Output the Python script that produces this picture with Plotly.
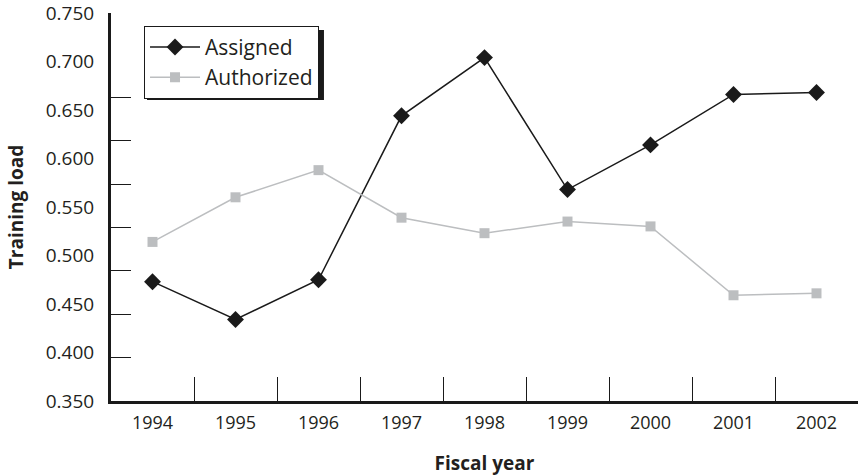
import plotly.graph_objects as go

years = ["1994", "1995", "1996", "1997", "1998", "1999", "2000", "2001", "2002"]
assigned = [0.473, 0.434, 0.475, 0.644, 0.704, 0.568, 0.614, 0.666, 0.668]
authorized = [0.514, 0.560, 0.588, 0.539, 0.523, 0.535, 0.530, 0.459, 0.461]
y_ticks = [0.35, 0.40, 0.45, 0.50, 0.55, 0.60, 0.65, 0.70, 0.75]
y_marks = [0.40, 0.45, 0.50, 0.55, 0.60, 0.65, 0.70]

FONT = "Open Sans"
INK = "#1a1a1a"

fig = go.Figure()
fig.add_trace(go.Scatter(x=years, y=assigned, name="Assigned", mode="lines+markers",
                         line=dict(color=INK, width=1.5),
                         marker=dict(symbol="diamond", size=13, color=INK)))
fig.add_trace(go.Scatter(x=years, y=authorized, name="Authorized", mode="lines+markers",
                         line=dict(color="#bcbec0", width=1.5),
                         marker=dict(symbol="square", size=10, color="#bcbec0")))
# invisible trace so the tick-only axis is drawn
fig.add_trace(go.Scatter(x=[years[0]], y=[0.4], yaxis="y2", mode="markers",
                         marker=dict(opacity=0), showlegend=False, hoverinfo="skip"))

# legend drop shadow
fig.add_shape(type="rect", xref="paper", yref="paper",
              x0=0.0482, x1=0.2851, y0=0.7758, y1=0.956,
              fillcolor=INK, line_width=0, layer="above")

fig.update_layout(
    width=859, height=476,
    margin=dict(l=111, r=1, t=13, b=75),
    paper_bgcolor="white", plot_bgcolor="white",
    font=dict(family=FONT, size=18, color="#231f20"),
    showlegend=True,
    legend=dict(x=0.0442, y=0.967, xanchor="left", yanchor="top",
                bgcolor="white", bordercolor=INK, borderwidth=1,
                font=dict(size=21), tracegroupgap=0, itemwidth=50,
                entrywidth=117),
    xaxis=dict(type="category", range=[-0.5, 8.5], showgrid=False, automargin=False,
               showline=True, linecolor=INK, linewidth=3,
               ticks="inside", tickson="boundaries", ticklen=24,
               tickcolor=INK, tickwidth=1, tickfont=dict(size=18),
               ticklabelstandoff=3,
               title=dict(text="<b>Fiscal year</b>", font=dict(size=19), standoff=28)),
    yaxis=dict(range=[0.35, 0.75], tickvals=y_ticks, tickformat=".3f", automargin=False,
               showgrid=False, zeroline=False, ticks="",
               showline=True, linecolor=INK, linewidth=3,
               ticklabelstandoff=10, tickfont=dict(size=19),
               ticklabeloverflow="allow",
               title=dict(text="<b>Training load</b>", font=dict(size=19), standoff=18)),
    yaxis2=dict(overlaying="y", range=[0.35, 0.797], tickvals=y_marks,
                showticklabels=False, showgrid=False, zeroline=False,
                ticks="inside", ticklen=20, tickcolor=INK, tickwidth=1,
                side="left", showline=False),
)

fig.write_html("out.html", config={"displayModeBar": False},
               post_script="document.body.style.margin = '0';")
